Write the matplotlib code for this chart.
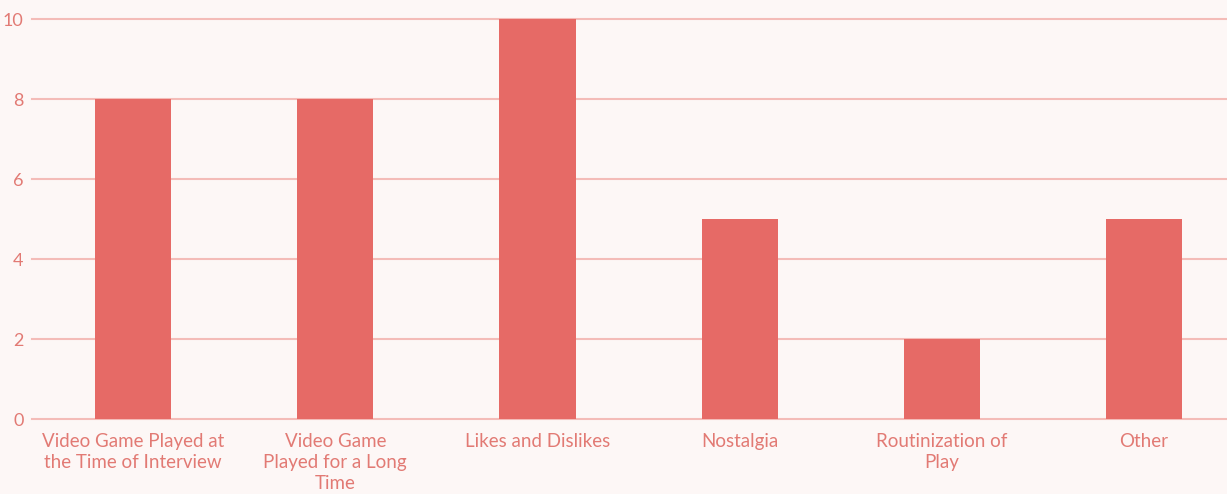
import matplotlib.pyplot as plt

categories = [
    "Video Game Played at\nthe Time of Interview",
    "Video Game\nPlayed for a Long\nTime",
    "Likes and Dislikes",
    "Nostalgia",
    "Routinization of\nPlay",
    "Other",
]
counts = [8, 8, 10, 5, 2, 5]
yticks = [0, 2, 4, 6, 8, 10]

bg = "#fdf7f6"
bar_color = "#e66a66"
grid_color = "#f4bcb8"
text_color = "#e27a74"

plt.rcParams["font.family"] = ["Lato", "DejaVu Sans"]

fig = plt.figure(figsize=(12.27, 4.94), dpi=100, facecolor=bg)
ax = fig.add_axes([32 / 1227, 75 / 494, 1195 / 1227, 400 / 494], facecolor=bg)

x = list(range(len(categories)))
ax.bar(x, counts, width=0.376, color=bar_color, zorder=2)

ax.set_xlim(-0.5, 5.41)
ax.set_ylim(0, 10)
ax.set_yticks(yticks)
ax.set_xticks(x)
ax.set_xticklabels(categories, fontsize=13.5, color=text_color, linespacing=1.28)
ax.tick_params(axis="y", labelsize=13, labelcolor=text_color, length=0, pad=6)
ax.tick_params(axis="x", length=0, pad=10)

ax.grid(axis="y", color=grid_color, linewidth=1.5, zorder=0)
for gl in ax.get_ygridlines():
    gl.set_clip_on(False)
for s in ax.spines.values():
    s.set_visible(False)

fig.savefig("out.png", dpi=100, facecolor=bg)
